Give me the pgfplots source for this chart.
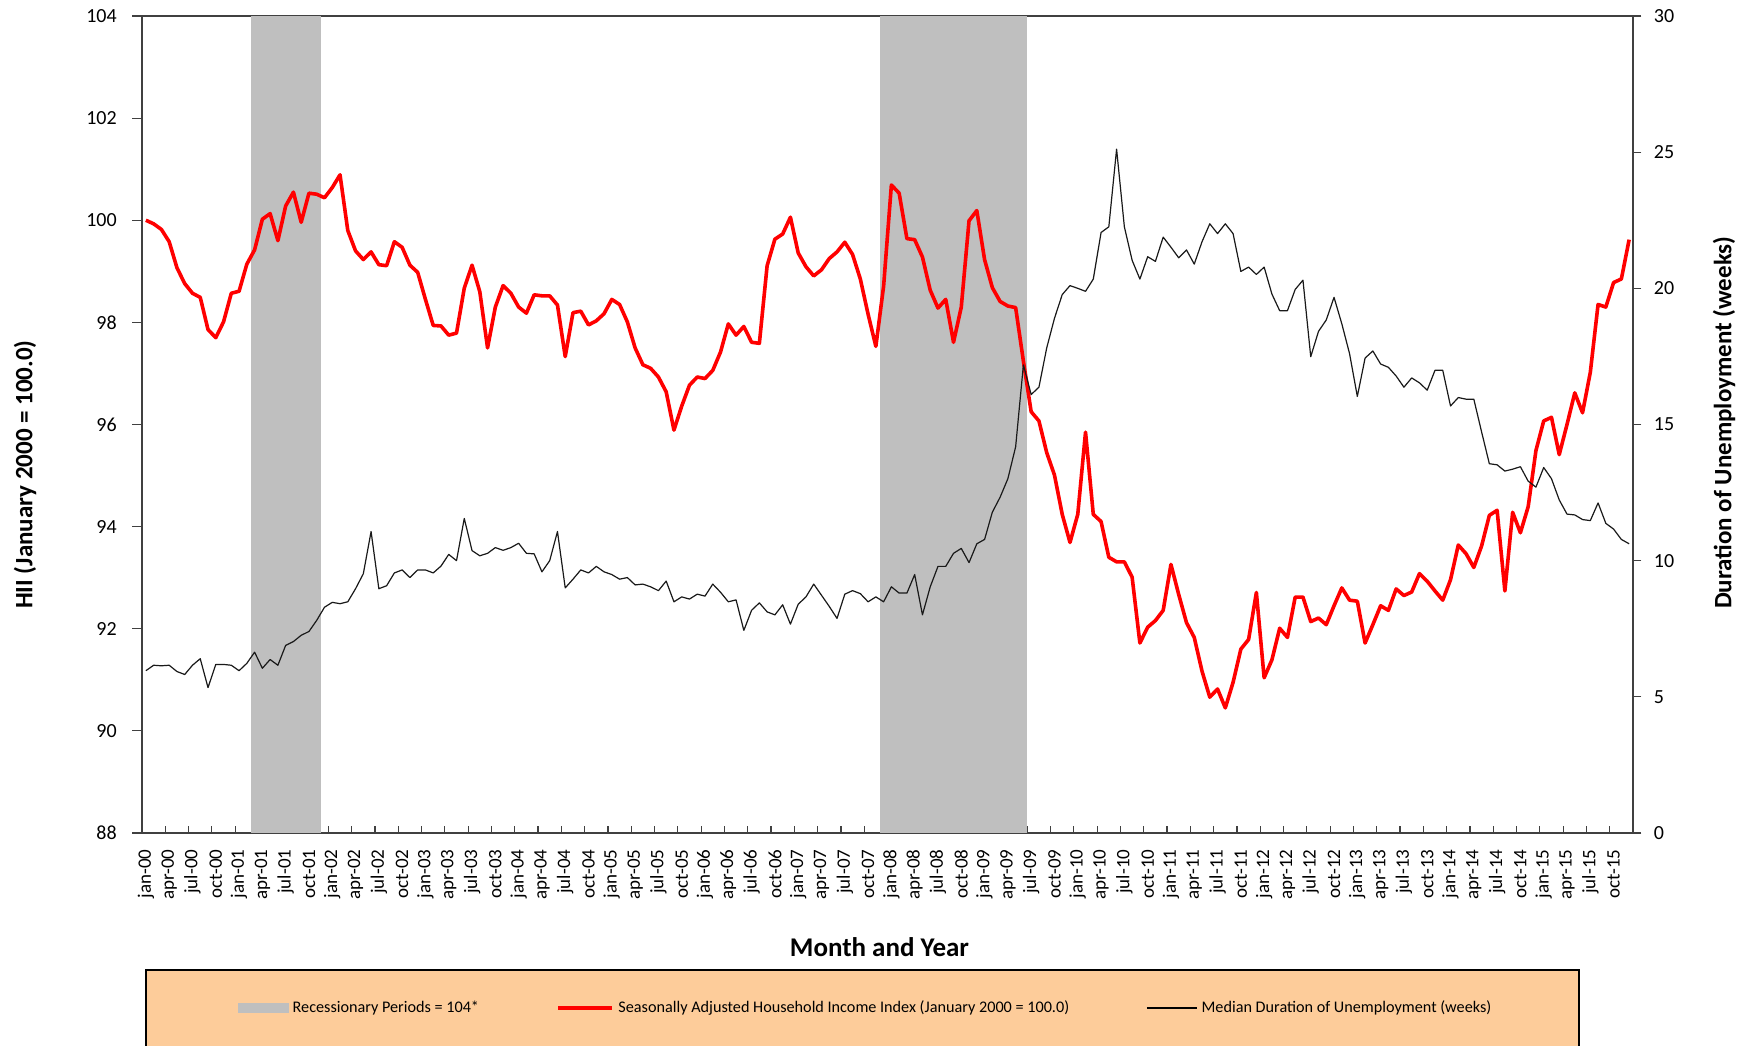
\documentclass[border=0pt]{standalone}
\usepackage{fontspec}
\setmainfont{Carlito}
\usepackage{pgfplots}
\usepackage{pgfplotstable}
\pgfplotsset{compat=1.18}
\definecolor{recgray}{RGB}{191,191,191}
\definecolor{peach}{RGB}{253,204,154}
\definecolor{axgray}{RGB}{64,64,64}

\pgfplotstableread{
i hii dur
0 100.00 5.96
1 99.93 6.16
2 99.82 6.14
3 99.58 6.16
4 99.07 5.93
5 98.76 5.82
6 98.57 6.16
7 98.49 6.40
8 97.86 5.34
9 97.70 6.19
10 98.01 6.19
11 98.57 6.16
12 98.61 5.96
13 99.14 6.23
14 99.42 6.64
15 100.02 6.05
16 100.13 6.37
17 99.60 6.16
18 100.28 6.89
19 100.55 7.03
20 99.96 7.26
21 100.53 7.40
22 100.51 7.81
23 100.44 8.29
24 100.64 8.47
25 100.89 8.42
26 99.80 8.49
27 99.40 8.97
28 99.23 9.52
29 99.38 11.07
30 99.13 8.97
31 99.11 9.08
32 99.58 9.55
33 99.47 9.66
34 99.12 9.38
35 98.98 9.66
36 98.45 9.66
37 97.94 9.55
38 97.93 9.80
39 97.75 10.23
40 97.79 10.00
41 98.67 11.55
42 99.12 10.37
43 98.60 10.18
44 97.50 10.27
45 98.30 10.48
46 98.72 10.38
47 98.57 10.48
48 98.30 10.64
49 98.18 10.27
50 98.54 10.25
51 98.52 9.59
52 98.52 10.00
53 98.34 11.07
54 97.33 9.00
55 98.19 9.32
56 98.22 9.66
57 97.95 9.55
58 98.03 9.79
59 98.17 9.59
60 98.45 9.49
61 98.35 9.32
62 98.01 9.38
63 97.50 9.11
64 97.17 9.14
65 97.10 9.04
66 96.93 8.90
67 96.64 9.25
68 95.89 8.49
69 96.36 8.67
70 96.77 8.59
71 96.93 8.77
72 96.90 8.70
73 97.06 9.14
74 97.42 8.84
75 97.97 8.49
76 97.75 8.56
77 97.92 7.44
78 97.61 8.18
79 97.59 8.45
80 99.11 8.12
81 99.63 8.01
82 99.73 8.38
83 100.06 7.67
84 99.36 8.40
85 99.09 8.67
86 98.91 9.14
87 99.03 8.73
88 99.25 8.32
89 99.38 7.88
90 99.57 8.77
91 99.33 8.90
92 98.85 8.79
93 98.16 8.49
94 97.53 8.67
95 98.71 8.49
96 100.69 9.04
97 100.53 8.81
98 99.64 8.81
99 99.62 9.49
100 99.28 8.01
101 98.63 9.04
102 98.28 9.79
103 98.45 9.79
104 97.61 10.27
105 98.30 10.45
106 99.99 9.93
107 100.19 10.62
108 99.23 10.78
109 98.68 11.78
110 98.41 12.33
111 98.32 13.01
112 98.29 14.18
113 97.24 17.19
114 96.25 16.10
115 96.07 16.37
116 95.45 17.81
117 95.01 18.90
118 94.24 19.77
119 93.69 20.10
120 94.24 20.00
121 95.85 19.89
122 94.24 20.34
123 94.10 22.05
124 93.40 22.26
125 93.31 25.11
126 93.31 22.26
127 93.01 21.03
128 91.72 20.34
129 92.03 21.16
130 92.16 20.99
131 92.36 21.88
132 93.26 21.51
133 92.67 21.12
134 92.12 21.41
135 91.83 20.89
136 91.17 21.71
137 90.66 22.37
138 90.82 22.01
139 90.45 22.37
140 90.95 22.01
141 91.60 20.62
142 91.79 20.78
143 92.71 20.51
144 91.04 20.78
145 91.39 19.79
146 92.01 19.18
147 91.83 19.18
148 92.62 19.96
149 92.62 20.30
150 92.14 17.49
151 92.21 18.42
152 92.08 18.84
153 92.45 19.67
154 92.80 18.70
155 92.56 17.60
156 92.54 16.03
157 91.72 17.44
158 92.08 17.70
159 92.45 17.22
160 92.36 17.10
161 92.78 16.78
162 92.65 16.37
163 92.72 16.71
164 93.08 16.53
165 92.93 16.26
166 92.74 16.99
167 92.56 16.99
168 92.96 15.68
169 93.64 15.99
170 93.47 15.93
171 93.20 15.93
172 93.62 14.73
173 94.22 13.56
174 94.32 13.52
175 92.74 13.29
176 94.28 13.36
177 93.88 13.45
178 94.39 12.92
179 95.49 12.70
180 96.07 13.42
181 96.14 13.01
182 95.41 12.23
183 96.00 11.71
184 96.62 11.68
185 96.23 11.51
186 97.02 11.47
187 98.35 12.12
188 98.30 11.37
189 98.78 11.16
190 98.85 10.78
191 99.62 10.62
}\datatable

\pgfplotstableread{
x rec
13.5 104
22.5 104
}\recA
\pgfplotstableread{
x rec
94.5 104
113.5 104
}\recB

\begin{document}
\begin{tikzpicture}
\useasboundingbox (-71pt,-106pt) rectangle (804pt,416.5pt);
\fill[peach] (2pt,-68.5pt) rectangle (718.5pt,-108pt);
\draw[black, line width=0.9pt] (2pt,-108pt) -- (2pt,-68.5pt) -- (718.5pt,-68.5pt) -- (718.5pt,-108pt);
\begin{axis}[
  at={(0pt,0pt)}, anchor=south west,
  scale only axis, width=745.5pt, height=408.5pt,
  xmin=-0.5, xmax=191.5, ymin=88, ymax=104,
  ytick={88,90,...,104},
  xtick={0,3,...,189},
  xticklabels={jan-00,apr-00,jul-00,oct-00,jan-01,apr-01,jul-01,oct-01,jan-02,apr-02,jul-02,oct-02,jan-03,apr-03,jul-03,oct-03,jan-04,apr-04,jul-04,oct-04,jan-05,apr-05,jul-05,oct-05,jan-06,apr-06,jul-06,oct-06,jan-07,apr-07,jul-07,oct-07,jan-08,apr-08,jul-08,oct-08,jan-09,apr-09,jul-09,oct-09,jan-10,apr-10,jul-10,oct-10,jan-11,apr-11,jul-11,oct-11,jan-12,apr-12,jul-12,oct-12,jan-13,apr-13,jul-13,oct-13,jan-14,apr-14,jul-14,oct-14,jan-15,apr-15,jul-15,oct-15},
  minor xtick={2.5,5.5,...,188.5},
  xtick pos=bottom, ytick pos=left,
  tick align=outside,
  major tick length=4.8pt, minor tick length=3.5pt,
  major x tick style={draw=none},
  minor x tick style={draw=axgray, yshift=3.5pt},
  every tick/.style={axgray, line width=0.6pt},
  axis line style={axgray, line width=0.8pt},
  /pgf/number format/assume math mode=true,
  yticklabel style={font=\fontsize{10}{12}\selectfont, xshift=-4.3pt},
  xticklabel style={rotate=90, anchor=east, font=\fontsize{9.5}{11}\selectfont},
  xlabel={Month and Year},
  xlabel style={at={(axis description cs:0.4946,-0.1395)}, anchor=center, font=\bfseries\fontsize{13.5}{16}\selectfont},
  ylabel={HII (January 2000 = 100.0)},
  ylabel style={at={(axis description cs:-0.0785,0.4387)}, anchor=center, font=\bfseries\fontsize{12.5}{15}\selectfont},
]
\addplot[fill=recgray, draw=none] table[x=x, y=rec] {\recA} \closedcycle;
\addplot[fill=recgray, draw=none] table[x=x, y=rec] {\recB} \closedcycle;
\addplot[red, line width=1.8pt, line join=round] table[x=i, y=hii] {\datatable};
\end{axis}
\begin{axis}[
  at={(0pt,0pt)}, anchor=south west,
  scale only axis, width=745.5pt, height=408.5pt,
  xmin=-0.5, xmax=191.5, ymin=0, ymax=30,
  axis y line*=right, axis x line=none,
  ytick={0,5,...,30},
  tick align=outside,
  major tick length=4.2pt,
  every tick/.style={axgray, line width=0.6pt},
  axis line style={axgray, line width=0.8pt},
  /pgf/number format/assume math mode=true,
  yticklabel style={font=\fontsize{10}{12}\selectfont, xshift=2.7pt},
  ylabel={Duration of Unemployment (weeks)},
  ylabel style={at={(axis description cs:1.061,0.5023)}, anchor=center, font=\bfseries\fontsize{12.5}{15}\selectfont},
  legend columns=3,
  legend style={draw=none, fill=none, at={(axis description cs:0.486,-0.2142)}, anchor=center,
    font=\fontsize{8.1}{9.5}\selectfont,
    /tikz/every even column/.append style={column sep=36.5pt}},
]
\addlegendimage{legend image code/.code={\fill[recgray] (0pt,-2.3pt) rectangle (25pt,2.3pt);}}
\addlegendentry{Recessionary Periods = 104*}
\addlegendimage{legend image code/.code={\draw[red, line width=2.2pt] (0pt,0pt) -- (27pt,0pt);}}
\addlegendentry{Seasonally Adjusted Household Income Index (January 2000 = 100.0)}
\addplot[black!90, line width=0.6pt, line join=round,
  legend image code/.code={\draw[black, line width=0.7pt] (0pt,0pt) -- (25pt,0pt);}]
  table[x=i, y=dur] {\datatable};
\addlegendentry{Median Duration of Unemployment (weeks)}
\end{axis}
\end{tikzpicture}
\end{document}
